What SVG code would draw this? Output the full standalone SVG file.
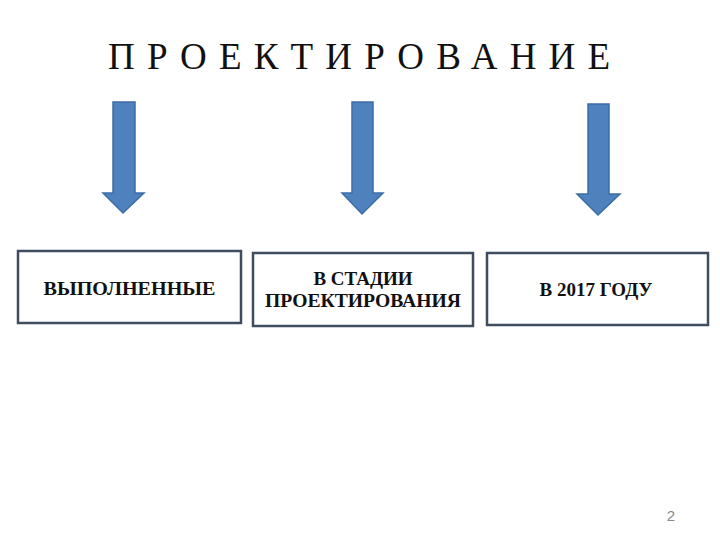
<svg xmlns="http://www.w3.org/2000/svg" width="720" height="540" viewBox="0 0 720 540">
<style>
.title{font-family:"Liberation Serif","Times New Roman",serif;font-size:37px;fill:#111}
.box rect{fill:#fff;stroke:#3f4d5e;stroke-width:2.5}
.box text{font-family:"Liberation Serif","Times New Roman",serif;font-size:19px;font-weight:bold;fill:#111;text-anchor:middle}
.arrow{fill:#4f81bd;stroke:#3b6da6;stroke-width:1.5}
.num{font-family:"Liberation Sans",Arial,sans-serif;font-size:15px;fill:#888;text-anchor:middle}
</style>
<rect width="720" height="540" fill="#fff"/>
<g id="title"><text class="title" x="108" y="69" textLength="502" lengthAdjust="spacing">ПРОЕКТИРОВАНИЕ</text></g>
<g id="connectors">
<polygon class="arrow" points="113,102 135,102 135,193 144,193 123,213 103,193 113,193"/>
<polygon class="arrow" points="352,102 373,102 373,193 383,193 362,214 342,193 352,193"/>
<polygon class="arrow" points="588,104 609,104 609,194 620,194 598,215 577,194 588,194"/>
</g>
<g id="node1" class="box"><rect x="18" y="251" width="223" height="72"/><text x="129.5" y="295" textLength="172" lengthAdjust="spacingAndGlyphs">ВЫПОЛНЕННЫЕ</text></g>
<g id="node2" class="box"><rect x="253" y="253" width="220" height="73"/><text x="363" y="285">В СТАДИИ</text><text x="363" y="307" textLength="196" lengthAdjust="spacingAndGlyphs">ПРОЕКТИРОВАНИЯ</text></g>
<g id="node3" class="box"><rect x="487" y="253" width="221" height="72"/><text x="596" y="296">В 2017 ГОДУ</text></g>
<text class="num" x="671" y="521">2</text>
</svg>
